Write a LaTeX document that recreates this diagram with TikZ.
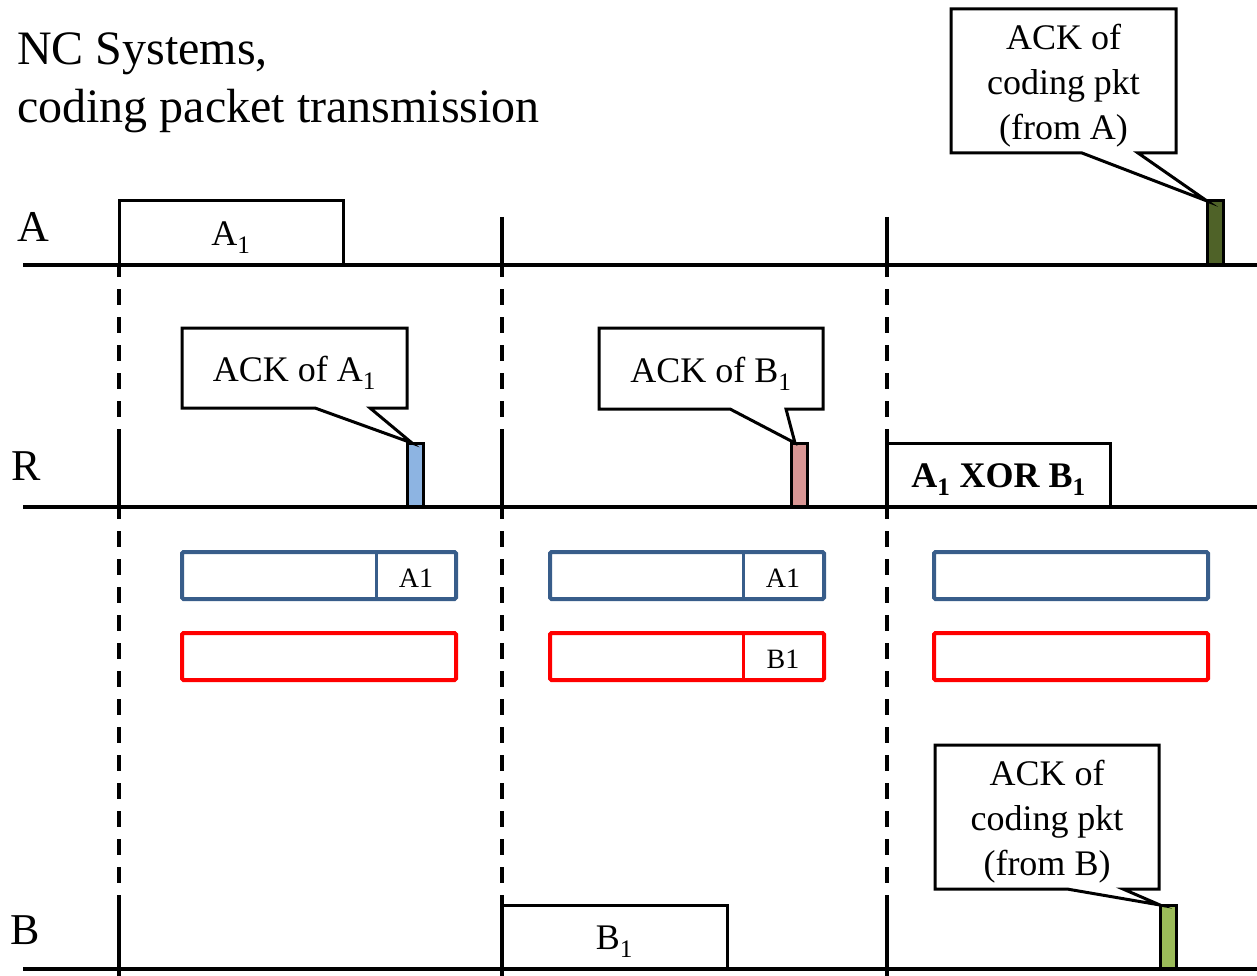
\documentclass[tikz,border=0pt]{standalone}
\usepackage{fontspec}
\setmainfont{Liberation Serif}
\usetikzlibrary{calc}
\definecolor{ackAfill}{RGB}{141,180,226}
\definecolor{ackBfill}{RGB}{217,150,148}
\definecolor{codeAfill}{RGB}{79,98,40}
\definecolor{codeBfill}{RGB}{155,187,89}
\definecolor{bufblue}{RGB}{56,93,138}
\definecolor{bufred}{RGB}{255,0,0}
\begin{document}
\begin{tikzpicture}[x=1pt,y=-1pt,
  axisline/.style={line width=3.6pt},
  guide/.style={line width=3.6pt, dash pattern=on 16pt off 12pt, dash phase=4pt},
  guidetick/.style={line width=3.6pt},
  pkt/.style={draw, line width=3pt, fill=white, inner sep=0pt, outer sep=0pt, anchor=north west},
  pktlabel/.style={inner sep=0pt, font=\fontsize{36}{40}\selectfont},
  ackblk/.style={draw, line width=3pt, inner sep=0pt, outer sep=0pt, minimum width=16, minimum height=64, anchor=south west},
  cbox/.style={inner sep=0pt, outer sep=0pt, anchor=north west},
  ctext/.style={inner sep=0pt, align=center, font=\fontsize{36}{45}\selectfont},
  coutline/.style={line width=3pt, line join=miter},
  buf/.style={draw, line width=4pt, rounded corners=1.5pt, inner sep=0pt, outer sep=0pt, minimum width=274, minimum height=47, anchor=north west},
  buflabel/.style={inner sep=0pt, font=\fontsize{28}{30}\selectfont},
  lanelabel/.style={anchor=base west, inner sep=0pt, font=\fontsize{44}{50}\selectfont},
  titletext/.style={anchor=base west, font=\fontsize{48}{58}\selectfont, inner sep=0pt}]

\useasboundingbox (0,0) rectangle (1257,976);

% title
\node[titletext] (title1) at (17,65) {NC Systems,};
\node[titletext] (title2) at (17,123) {coding packet transmission};

% lane labels
\node[lanelabel] (labA) at (17,241) {A};
\node[lanelabel] (labR) at (11,480) {R};
\node[lanelabel] (labB) at (10,944) {B};

% time axes
\coordinate (A0) at (23,265);  \coordinate (A1) at (1257,265);
\coordinate (R0) at (23,507);  \coordinate (R1) at (1257,507);
\coordinate (B0) at (23,969);  \coordinate (B1) at (1257,969);

% slot boundaries: dashed between lanes, solid just above each axis
\foreach \gx in {119,502,887}{
  \draw[guide] (\gx,265) -- (\gx,443);
  \draw[guide] (\gx,507) -- (\gx,905);
  \draw[guidetick] (\gx,443) -- (\gx,507);
  \draw[guidetick] (\gx,905) -- (\gx,976);
}
\draw[guidetick] (502,217) -- (502,265);
\draw[guidetick] (887,217) -- (887,265);

% transmissions
\node[pkt, minimum width=224, minimum height=64] (pA1) at (119,201) {};
\node[pktlabel] (pA1t) at ([yshift=-5pt]pA1.center) {A\textsubscript{1}};
\node[pkt, minimum width=225, minimum height=64] (pB1) at (502,905) {};
\node[pktlabel] (pB1t) at ([yshift=-5pt]pB1.center) {B\textsubscript{1}};
\node[pkt, minimum width=223, minimum height=64] (pX) at (887,443) {};
\node[pktlabel, font=\bfseries\fontsize{36}{40}\selectfont] (pXt) at ([yshift=-5pt]pX.center) {A\textsubscript{1} XOR B\textsubscript{1}};

% acknowledgement blocks
\node[ackblk, fill=ackAfill] (ackA) at (407,507) {};
\node[ackblk, fill=ackBfill] (ackB) at (791,507) {};
\node[ackblk, fill=codeAfill] (ackCA) at (1207,265) {};
\node[ackblk, fill=codeBfill] (ackCB) at (1160,969) {};

% axes on top
\draw[axisline] (A0) -- (A1);
\draw[axisline] (R0) -- (R1);
\draw[axisline] (B0) -- (B1);

% callouts
\node[cbox, minimum width=225, minimum height=80] (cA) at (182,328) {};
\node[ctext] (cAt) at ([yshift=-5pt]cA.center) {ACK of A\textsubscript{1}};
\draw[coutline] (cA.north west) -- (cA.north east) -- (cA.south east)
  -- ([xshift=-37pt]cA.south east) -- ([xshift=5pt]ackA.north west)
  -- ([xshift=133pt]cA.south west) -- (cA.south west) -- cycle;

\node[cbox, minimum width=224, minimum height=81] (cB) at (599,328) {};
\node[ctext] (cBt) at ([yshift=-5pt]cB.center) {ACK of B\textsubscript{1}};
\draw[coutline] (cB.north west) -- (cB.north east) -- (cB.south east)
  -- ([xshift=-37pt]cB.south east) -- ([xshift=4pt]ackB.north west)
  -- ([xshift=131pt]cB.south west) -- (cB.south west) -- cycle;

\node[cbox, minimum width=225, minimum height=144] (cCA) at (951,9) {};
\node[ctext] (cCAt) at ([yshift=-5pt]cCA.center) {ACK of\\coding pkt\\(from A)};
\draw[coutline] (cCA.north west) -- (cCA.north east) -- (cCA.south east)
  -- ([xshift=-38pt]cCA.south east) -- (ackCA.north west)
  -- ([xshift=131pt]cCA.south west) -- (cCA.south west) -- cycle;

\node[cbox, minimum width=224, minimum height=144] (cCB) at (935,745) {};
\node[ctext] (cCBt) at ([yshift=-5pt]cCB.center) {ACK of\\coding pkt\\(from B)};
\draw[coutline] (cCB.north west) -- (cCB.north east) -- (cCB.south east)
  -- ([xshift=-36pt]cCB.south east) -- (ackCB.north west)
  -- ([xshift=132pt]cCB.south west) -- (cCB.south west) -- cycle;

% relay buffers
\node[buf, draw=bufblue] (qA1) at (182,552) {};
\node[buf, draw=bufred]  (qB1) at (182,633) {};
\node[buf, draw=bufblue] (qA2) at (550,552) {};
\node[buf, draw=bufred]  (qB2) at (550,633) {};
\node[buf, draw=bufblue] (qA3) at (934,552) {};
\node[buf, draw=bufred]  (qB3) at (934,633) {};

\draw[bufblue, line width=3pt] ([xshift=-80pt]qA1.north east) -- ([xshift=-80pt]qA1.south east);
\node[buflabel] (qA1l) at ($(qA1.east)+(-40,3)$) {A1};
\draw[bufblue, line width=3pt] ([xshift=-81pt]qA2.north east) -- ([xshift=-81pt]qA2.south east);
\node[buflabel] (qA2l) at ($(qA2.east)+(-41,3)$) {A1};
\draw[bufred, line width=3pt] ([xshift=-81pt]qB2.north east) -- ([xshift=-81pt]qB2.south east);
\node[buflabel] (qB2l) at ($(qB2.east)+(-41,3)$) {B1};

\end{tikzpicture}
\end{document}
